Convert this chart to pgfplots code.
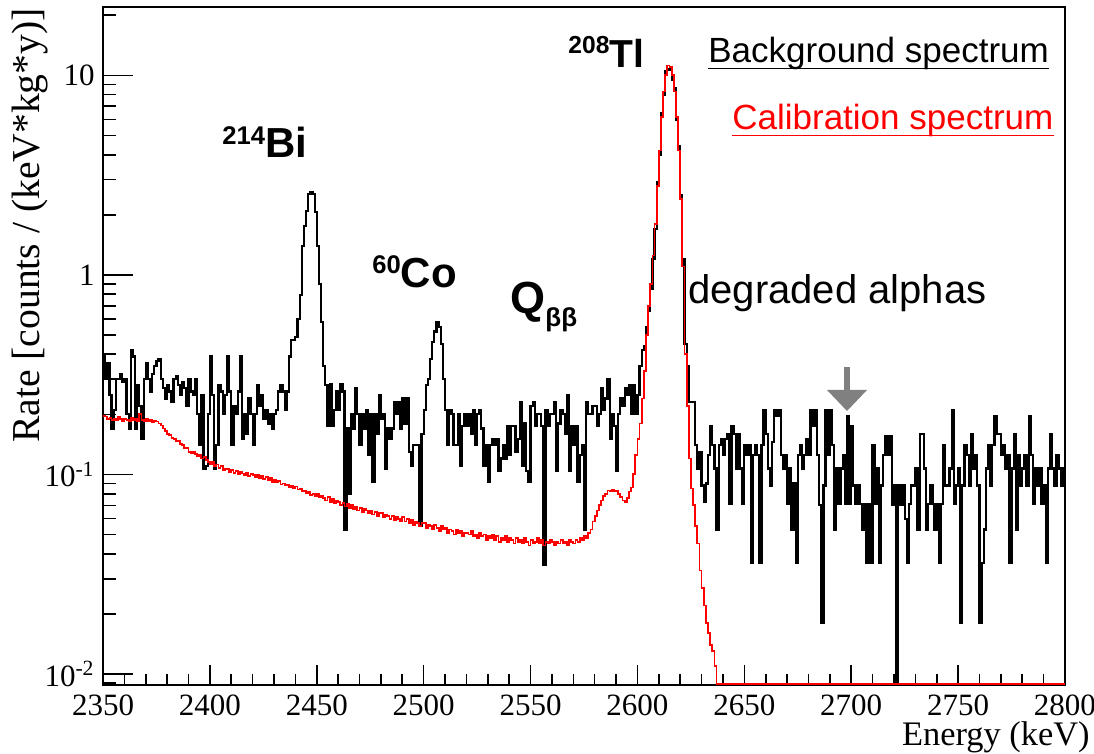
\documentclass[border=0pt]{standalone}
\usepackage{fontspec}
\setmainfont{Liberation Serif}
\newfontfamily\arial{Liberation Sans}
\usepackage{pgfplots}
\pgfplotsset{compat=1.18}
\usepackage{pgfplotstable}

% Background spectrum, 1 keV bins starting at 2350 keV (last entry closes the 2799 bin)
\pgfplotstableread[row sep=\\, header=false]{
.39\\ .30\\ .36\\ .25\\ .17\\ .21\\ .30\\ .30\\ .32\\ .29\\
.30\\ .20\\ .17\\ .42\\ .39\\ .17\\ .28\\ .22\\ .15\\ .30\\
.36\\ .30\\ .26\\ .32\\ .35\\ .37\\ .38\\ .30\\ .27\\ .24\\
.28\\ .26\\ .23\\ .30\\ .31\\ .28\\ .25\\ .29\\ .27\\ .22\\
.30\\ .26\\ .25\\ .30\\ .20\\ .14\\ .25\\ .107\\ .11\\ .20\\
.39\\ .25\\ .107\\ .14\\ .28\\ .26\\ .20\\ .25\\ .39\\ .26\\
.14\\ .22\\ .20\\ .26\\ .39\\ .15\\ .20\\ .16\\ .24\\ .20\\
.14\\ .20\\ .28\\ .22\\ .25\\ .19\\ .21\\ .18\\ .20\\ .17\\
.20\\ .21\\ .26\\ .28\\ .26\\ .21\\ .26\\ .39\\ .47\\ .47\\
.49\\ .60\\ .79\\ 1.4\\ 1.75\\ 2.09\\ 2.55\\ 2.6\\ 2.55\\ 2.07\\
1.4\\ .9\\ .58\\ .35\\ .28\\ .175\\ .285\\ .175\\ .21\\ .26\\
.21\\ .285\\ .26\\ .053\\ .17\\ .08\\ .20\\ .17\\ .27\\ .20\\
.14\\ .20\\ .17\\ .21\\ .125\\ .20\\ .092\\ .20\\ .16\\ .25\\
.19\\ .20\\ .107\\ .17\\ .15\\ .17\\ .23\\ .20\\ .23\\ .17\\
.24\\ .18\\ .24\\ .13\\ .11\\ .14\\ .14\\ .14\\ .055\\ .16\\
.21\\ .28\\ .30\\ .38\\ .46\\ .52\\ .58\\ .55\\ .45\\ .30\\
.21\\ .14\\ .21\\ .20\\ .14\\ .14\\ .20\\ .11\\ .175\\ .20\\
.175\\ .20\\ .16\\ .21\\ .14\\ .20\\ .21\\ .17\\ .11\\ .14\\
.092\\ .14\\ .15\\ .14\\ .15\\ .104\\ .12\\ .14\\ .12\\ .175\\
.125\\ .175\\ .175\\ .13\\ .15\\ .23\\ .11\\ .18\\ .104\\ .092\\
.22\\ .23\\ .175\\ .20\\ .20\\ .175\\ .035\\ .21\\ .175\\ .20\\
.20\\ .23\\ .104\\ .18\\ .21\\ .20\\ .16\\ .25\\ .104\\ .175\\
.14\\ .175\\ .092\\ .125\\ .14\\ .053\\ .23\\ .20\\ .20\\ .22\\
.22\\ .175\\ .20\\ .27\\ .21\\ .24\\ .30\\ .15\\ .20\\ .175\\
.104\\ .20\\ .24\\ .22\\ .27\\ .25\\ .28\\ .20\\ .28\\ .20\\
.25\\ .35\\ .42\\ .44\\ .55\\ .66\\ .85\\ 1.2\\ 1.7\\ 2.9\\
4.0\\ 6.5\\ 8.0\\ 10.5\\ 10.8\\ 10.6\\ 9.5\\ 8.6\\ 6.0\\ 4.4\\
2.5\\ 1.2\\ .45\\ .35\\ .23\\ .23\\ .23\\ .14\\ .107\\ .13\\
.088\\ .073\\ .09\\ .125\\ .175\\ .14\\ .107\\ .053\\ .14\\ .15\\
.125\\ .15\\ .16\\ .071\\ .175\\ .16\\ .107\\ .16\\ .107\\ .071\\
.14\\ .125\\ .14\\ .036\\ .125\\ .14\\ .125\\ .036\\ .14\\ .21\\
.16\\ .107\\ .088\\ .145\\ .21\\ .196\\ .21\\ .125\\ .107\\ .125\\
.071\\ .107\\ .053\\ .09\\ .036\\ .125\\ .14\\ .107\\ .125\\ .15\\
.125\\ .21\\ .175\\ .21\\ .125\\ .07\\ .018\\ .088\\ .21\\ .125\\
.21\\ .14\\ .053\\ .107\\ .071\\ .107\\ .125\\ .071\\ .196\\ .071\\
.175\\ .088\\ .071\\ .088\\ .071\\ .053\\ .071\\ .036\\ .071\\ .036\\
.14\\ .071\\ .107\\ .036\\ .088\\ .125\\ .155\\ .125\\ .155\\ .07\\
.088\\ .0088\\ .088\\ .07\\ .088\\ .06\\ .036\\ .071\\ .088\\ .088\\
.107\\ .053\\ .16\\ .16\\ .107\\ .053\\ .071\\ .088\\ .071\\ .053\\
.071\\ .036\\ .071\\ .14\\ .088\\ .088\\ .107\\ .21\\ .071\\ .088\\
.107\\ .018\\ .088\\ .14\\ .125\\ .088\\ .16\\ .107\\ .125\\ .088\\
.018\\ .036\\ .053\\ .107\\ .14\\ .088\\ .14\\ .196\\ .16\\ .16\\
.125\\ .14\\ .107\\ .125\\ .036\\ .107\\ .16\\ .053\\ .125\\ .088\\
.107\\ .125\\ .088\\ .196\\ .125\\ .071\\ .107\\ .088\\ .107\\ .071\\
.088\\ .036\\ .107\\ .16\\ .107\\ .088\\ .125\\ .107\\ .088\\ .107\\
.107\\
}\bgdata

% Calibration spectrum, 1 keV bins starting at 2350 keV
\pgfplotstableread[row sep=\\, header=false]{
.197\\ .195\\ .19\\ .192\\ .188\\ .19\\ .187\\ .195\\ .19\\ .186\\
.19\\ .188\\ .185\\ .192\\ .188\\ .19\\ .186\\ .2\\ .188\\ .186\\
.19\\ .185\\ .188\\ .182\\ .186\\ .184\\ .18\\ .176\\ .17\\ .165\\
.16\\ .158\\ .152\\ .15\\ .146\\ .148\\ .142\\ .14\\ .136\\ .135\\
.13\\ .128\\ .13\\ .126\\ .124\\ .125\\ .12\\ .122\\ .118\\ .115\\
.113\\ .115\\ .11\\ .112\\ .108\\ .11\\ .105\\ .107\\ .106\\ .103\\
.105\\ .102\\ .104\\ .1\\ .103\\ .101\\ .099\\ .102\\ .098\\ .1\\
.099\\ .097\\ .099\\ .096\\ .098\\ .095\\ .097\\ .094\\ .096\\ .092\\
.094\\ .091\\ .093\\ .089\\ .09\\ .088\\ .089\\ .086\\ .088\\ .085\\
.087\\ .084\\ .085\\ .082\\ .083\\ .081\\ .082\\ .079\\ .08\\ .078\\
.08\\ .077\\ .078\\ .076\\ .074\\ .077\\ .073\\ .075\\ .072\\ .074\\
.073\\ .07\\ .072\\ .069\\ .071\\ .068\\ .07\\ .067\\ .069\\ .066\\
.068\\ .065\\ .067\\ .066\\ .064\\ .066\\ .063\\ .065\\ .062\\ .064\\
.064\\ .061\\ .063\\ .062\\ .06\\ .062\\ .059\\ .061\\ .06\\ .058\\
.061\\ .058\\ .06\\ .057\\ .059\\ .056\\ .058\\ .057\\ .055\\ .057\\
.057\\ .054\\ .056\\ .055\\ .053\\ .056\\ .054\\ .052\\ .055\\ .053\\
.054\\ .051\\ .053\\ .052\\ .05\\ .053\\ .051\\ .052\\ .049\\ .051\\
.051\\ .05\\ .052\\ .049\\ .05\\ .048\\ .051\\ .049\\ .05\\ .047\\
.049\\ .048\\ .05\\ .047\\ .049\\ .046\\ .048\\ .047\\ .049\\ .046\\
.048\\ .047\\ .045\\ .048\\ .046\\ .047\\ .045\\ .048\\ .046\\ .044\\
.047\\ .045\\ .046\\ .048\\ .045\\ .047\\ .044\\ .046\\ .045\\ .047\\
.046\\ .044\\ .046\\ .045\\ .047\\ .045\\ .046\\ .044\\ .047\\ .046\\
.045\\ .047\\ .046\\ .048\\ .047\\ .049\\ .048\\ .051\\ .053\\ .058\\
.062\\ .066\\ .07\\ .074\\ .078\\ .08\\ .083\\ .082\\ .084\\ .082\\
.083\\ .08\\ .077\\ .074\\ .073\\ .076\\ .082\\ .086\\ .1\\ .125\\
.15\\ .18\\ .24\\ .33\\ .5\\ .7\\ .9\\ 1.25\\ 1.8\\ 2.8\\
4.2\\ 6.2\\ 8.3\\ 10\\ 11.2\\ 11\\ 10\\ 8.3\\ 6.2\\ 4.2\\
2.4\\ 1.1\\ .4\\ .22\\ .12\\ .085\\ .07\\ .055\\ .045\\ .033\\
.027\\ .022\\ .018\\ .016\\ .014\\ .013\\ .011\\ .00885\\
}\caldata

\definecolor{arrowgray}{RGB}{128,128,128}

\begin{document}
\begin{tikzpicture}
% x axis ticks and labels (drawn first)
\begin{axis}[
  at={(0,0)}, anchor=south west,
  scale only axis, width=481pt, height=339pt,
  xmin=2350, xmax=2800, ymin=0, ymax=1,
  ytick=\empty,
  xtick={2350,2400,2450,2500,2550,2600,2650,2700,2750,2800},
  xticklabels={2350,2400,2450,2500,2550,2600,2650,2700,2750,2800},
  minor x tick num=4,
  xtick pos=left, tick align=inside,
  major tick length=10pt, minor tick length=5.5pt,
  tick style={black, line width=0.8pt},
  axis line style={line width=0.9pt},
  xticklabel style={anchor=base, yshift=-15.5pt, inner sep=0pt, font=\fontsize{15.5}{17}\selectfont},
]
\addplot[draw=none] coordinates {(2350,0.5)};
\end{axis}
% y axis, frame and data (drawn on top)
\begin{axis}[
  at={(0,0)}, anchor=south west,
  scale only axis, width=481pt, height=339pt,
  xmin=2350, xmax=2800,
  ymode=log, ymin=0.0088, ymax=22,
  xtick=\empty,
  ytick={0.01,0.1,1,10},
  yticklabels={10\textsuperscript{-2},10\textsuperscript{-1},1,10},
  minor ytick={0.009,0.02,0.03,0.04,0.05,0.06,0.07,0.08,0.09,0.2,0.3,0.4,0.5,0.6,0.7,0.8,0.9,2,3,4,5,6,7,8,9,20},
  ytick pos=left, tick align=inside,
  major tick length=15pt, minor tick length=6.5pt,
  tick style={black, line width=0.8pt},
  axis line style={line width=0.9pt},
  yticklabel style={anchor=east, xshift=-4pt, inner sep=0pt, font=\fontsize{15.5}{18}\selectfont},
]
\addplot[black, line width=1.1pt, const plot mark left, no marks]
  table[x expr=\coordindex+2350, y index=0] {\bgdata};
\addplot[red, line width=0.9pt, const plot mark left, no marks]
  table[x expr=\coordindex+2350, y index=0] {\caldata};
\addplot[red, line width=1.1pt, no marks] coordinates {(2637,0.00885) (2800,0.00885)};
\end{axis}

% axis titles
\node[rotate=90, anchor=base east, inner sep=0pt, font=\fontsize{19.8}{21}\selectfont]
  at (-31.5pt,338.5pt) {Rate [counts / (keV*kg*y)]};
\node[anchor=base east, inner sep=0pt, font=\fontsize{17.2}{18}\selectfont]
  at (493.5pt,-30.5pt) {Energy (keV)};

% peak labels
\node[anchor=base west, inner sep=0pt, font=\arial\bfseries] at (59.5pt,263.5pt)
  {\raisebox{6.5pt}{\fontsize{12.8}{14}\selectfont 214}\fontsize{21}{24}\selectfont Bi};
\node[anchor=base west, inner sep=0pt, font=\arial\bfseries] at (134.5pt,198.5pt)
  {\raisebox{7pt}{\fontsize{12.8}{14}\selectfont 60}\fontsize{21}{24}\selectfont Co};
\node[anchor=base west, inner sep=0pt, font=\arial\bfseries] at (203.5pt,185.5pt)
  {\fontsize{22.5}{24}\selectfont Q\raisebox{-6.5pt}{\fontsize{13}{14}\selectfont ββ}};
\node[anchor=base west, inner sep=0pt, font=\arial\bfseries] at (232.5pt,308.5pt)
  {\raisebox{7pt}{\fontsize{12.3}{14}\selectfont 208}\fontsize{19.5}{22}\selectfont Tl};
\node[anchor=base west, inner sep=0pt, font=\arial\fontsize{20}{22}\selectfont] at (292.5pt,190.5pt)
  {degraded alphas};

% arrow
\draw[arrowgray, line width=2.6pt] (372pt,159pt) -- (372pt,146pt);
\fill[arrowgray] (362pt,147.5pt) -- (382pt,147.5pt) -- (372pt,137pt) -- cycle;

% legend texts
\node[anchor=base west, inner sep=0pt, font=\arial\fontsize{17.5}{20}\selectfont] (bg) at (302.5pt,311pt)
  {Background spectrum};
\draw[black, line width=0.9pt] ([yshift=-2.75pt]bg.base west) -- ([yshift=-2.75pt]bg.base east);
\node[anchor=base west, inner sep=0pt, text=red, font=\arial\fontsize{17.5}{20}\selectfont] (cal) at (314.5pt,277.5pt)
  {Calibration spectrum};
\draw[red, line width=0.9pt] ([yshift=-2.75pt]cal.base west) -- ([yshift=-2.75pt]cal.base east);

% bounding box matching the reference proportions
\pgfresetboundingbox
\path (-51.5pt,-34.5pt) rectangle (495.5pt,342.5pt);
\end{tikzpicture}
\end{document}
